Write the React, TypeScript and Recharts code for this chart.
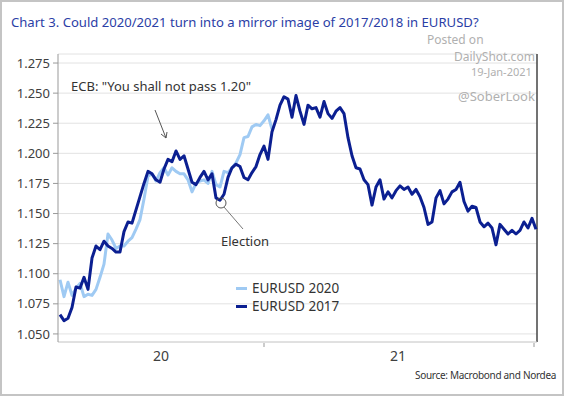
import React from 'react'
import {
  LineChart, Line, XAxis, YAxis, CartesianGrid, ReferenceLine,
} from 'recharts'

// EURUSD, roughly weekly observations, 2017/2018 path (aligned to 2020/2021)
const eurusd2017 = [
  1.066, 1.061, 1.063, 1.072, 1.089, 1.088, 1.097, 1.087, 1.113, 1.123,
  1.120, 1.127, 1.123, 1.121, 1.118, 1.118, 1.135, 1.143, 1.142, 1.153,
  1.164, 1.175, 1.185, 1.183, 1.178, 1.176, 1.187, 1.195, 1.193, 1.202,
  1.195, 1.198, 1.187, 1.176, 1.174, 1.180, 1.185, 1.178, 1.183, 1.163,
  1.161, 1.166, 1.180, 1.188, 1.191, 1.189, 1.180, 1.178, 1.184, 1.189,
  1.199, 1.206, 1.195, 1.218, 1.228, 1.240, 1.247, 1.245, 1.230, 1.248,
  1.235, 1.224, 1.240, 1.237, 1.238, 1.230, 1.243, 1.233, 1.229, 1.235,
  1.238, 1.233, 1.213, 1.198, 1.188, 1.187, 1.178, 1.174, 1.157, 1.172,
  1.178, 1.162, 1.168, 1.163, 1.169, 1.173, 1.170, 1.172, 1.166, 1.170,
  1.164, 1.155, 1.141, 1.143, 1.163, 1.169, 1.158, 1.162, 1.168, 1.170,
  1.176, 1.160, 1.152, 1.156, 1.155, 1.143, 1.139, 1.142, 1.138, 1.124,
  1.141, 1.137, 1.133, 1.136, 1.133, 1.136, 1.143, 1.138, 1.146, 1.137,
]

// EURUSD 2020 up to mid-January 2021
const eurusd2020 = [
  1.095, 1.081, 1.093, 1.082, 1.088, 1.092, 1.081, 1.083, 1.082, 1.087,
  1.097, 1.108, 1.133, 1.128, 1.121, 1.123, 1.123, 1.127, 1.130, 1.137,
  1.145, 1.162, 1.181, 1.183, 1.177, 1.184, 1.188, 1.182, 1.188, 1.185,
  1.183, 1.183, 1.178, 1.168, 1.175, 1.177, 1.178, 1.175, 1.185, 1.174,
  1.172, 1.185, 1.184, 1.188, 1.192, 1.199, 1.213, 1.214, 1.222, 1.224,
  1.223, 1.227, 1.232, 1.220,
]

const yTicks = [1.05, 1.075, 1.1, 1.125, 1.15, 1.175, 1.2, 1.225, 1.25, 1.275]
const yearLabels = ['20', '21']
const yearLabelPos = [25.25, 84.5]
const yearBoundaries = [51, 118.5]

const data = eurusd2017.map((v, i) => ({
  i,
  y2017: v,
  y2020: i < eurusd2020.length ? eurusd2020[i] : null,
}))

const DARK = '#0b1f91'
const LIGHT = '#9fcaf3'
const FONT = '"Noto Sans", "Open Sans", sans-serif'

function YearTick({ x, y, payload }: any) {
  const v = payload.value
  const li = yearLabelPos.indexOf(v)
  if (li >= 0) {
    return (
      <text x={x} y={y + 19} textAnchor="middle" fontSize={14} fill="#404040" fontFamily={FONT}>
        {yearLabels[li]}
      </text>
    )
  }
  return <line x1={x} x2={x} y1={y + 1} y2={y + 5} stroke="#999" strokeWidth={1} />
}

function LegendBox() {
  const items = [
    { name: 'EURUSD 2020', color: LIGHT },
    { name: 'EURUSD 2017', color: DARK },
  ]
  return (
    <div style={{ position: 'absolute', left: 236, top: 279, fontFamily: FONT, fontSize: 13.5, color: '#333' }}>
      {items.map(it => (
        <div key={it.name} style={{ display: 'flex', alignItems: 'center', height: 18 }}>
          <span style={{ width: 11, height: 3, background: it.color, marginRight: 5 }} />
          <span>{it.name}</span>
        </div>
      ))}
    </div>
  )
}

const wm = { position: 'absolute' as const, color: '#b0b0b0', lineHeight: 1, whiteSpace: 'nowrap' as const }

export default function App() {
  return (
    <div style={{ position: 'absolute', left: 0, top: 0, width: 564, height: 396, background: '#fff', fontFamily: FONT }}>
      <LineChart width={564} height={396} data={data} margin={{ top: 54, right: 27, bottom: 0, left: 0 }}>
        <CartesianGrid vertical={false} stroke="#e2e2e2" />
        <XAxis
          dataKey="i"
          type="number"
          domain={[-0.5, 119.25]}
          ticks={[yearLabelPos[0], yearBoundaries[0], yearLabelPos[1], yearBoundaries[1]]}
          tick={<YearTick />}
          tickLine={false}
          tickSize={0}
          tickMargin={0}
          height={54}
          stroke="#d0d0d0"
          interval={0}
        />
        <YAxis
          domain={[1.0433, 1.2825]}
          ticks={yTicks}
          width={58}
          tickSize={5}
          tickMargin={3}
          tickFormatter={(v: number) => v.toFixed(3)}
          tick={{ fontSize: 13, fill: '#404040', fontFamily: FONT }}
          stroke="#999"
          interval={0}
        />
        <ReferenceLine x={119.25} stroke="#444" strokeWidth={1.5} />
        <Line
          dataKey="y2020"
          name="EURUSD 2020"
          stroke={LIGHT}
          strokeWidth={3}
          dot={false}
          strokeLinejoin="round"
          isAnimationActive={false}
          connectNulls={false}
        />
        <Line
          dataKey="y2017"
          name="EURUSD 2017"
          stroke={DARK}
          strokeWidth={3}
          dot={false}
          strokeLinejoin="round"
          isAnimationActive={false}
        />
      </LineChart>

      <LegendBox />

      <svg width={564} height={396} style={{ position: 'absolute', left: 0, top: 0, pointerEvents: 'none' }}>
        <text x={71} y={91} fontSize={13} fill="#333" fontFamily={FONT}>ECB: "You shall not pass 1.20"</text>
        <line x1={155} y1={110} x2={166} y2={138} stroke="#555" strokeWidth={1} />
        <polyline points="161,134 166,138 167,132" fill="none" stroke="#555" strokeWidth={1} />
        <circle cx={221} cy={203} r={5} fill="none" stroke="#555" strokeWidth={1} />
        <line x1={224} y1={207} x2={243} y2={229} stroke="#777" strokeWidth={1} />
        <text x={221} y={246} fontSize={13} fill="#333" fontFamily={FONT}>Election</text>
      </svg>

      <div style={{ position: 'absolute', left: 11, top: 16, fontSize: 13.1, lineHeight: 1, color: '#2b3ea6', whiteSpace: 'nowrap' }}>
        Chart 3. Could 2020/2021 turn into a mirror image of 2017/2018 in EURUSD?
      </div>
      <div style={{ ...wm, left: 427, top: 34, fontSize: 12 }}>Posted on</div>
      <div style={{ ...wm, left: 454, top: 51, fontSize: 12 }}>DailyShot.com</div>
      <div style={{ ...wm, left: 471, top: 66, fontSize: 11 }}>19-Jan-2021</div>
      <div style={{ ...wm, left: 458, top: 90, fontSize: 13 }}>@SoberLook</div>
      <div style={{ position: 'absolute', left: 415, top: 368, fontSize: 10, color: '#333', letterSpacing: -0.3 }}>
        Source: Macrobond and Nordea
      </div>
      <div style={{ position: 'absolute', left: 0, top: 0, width: 564, height: 396, boxSizing: 'border-box', border: '2px solid #c4c4c4', pointerEvents: 'none' }} />
    </div>
  )
}
